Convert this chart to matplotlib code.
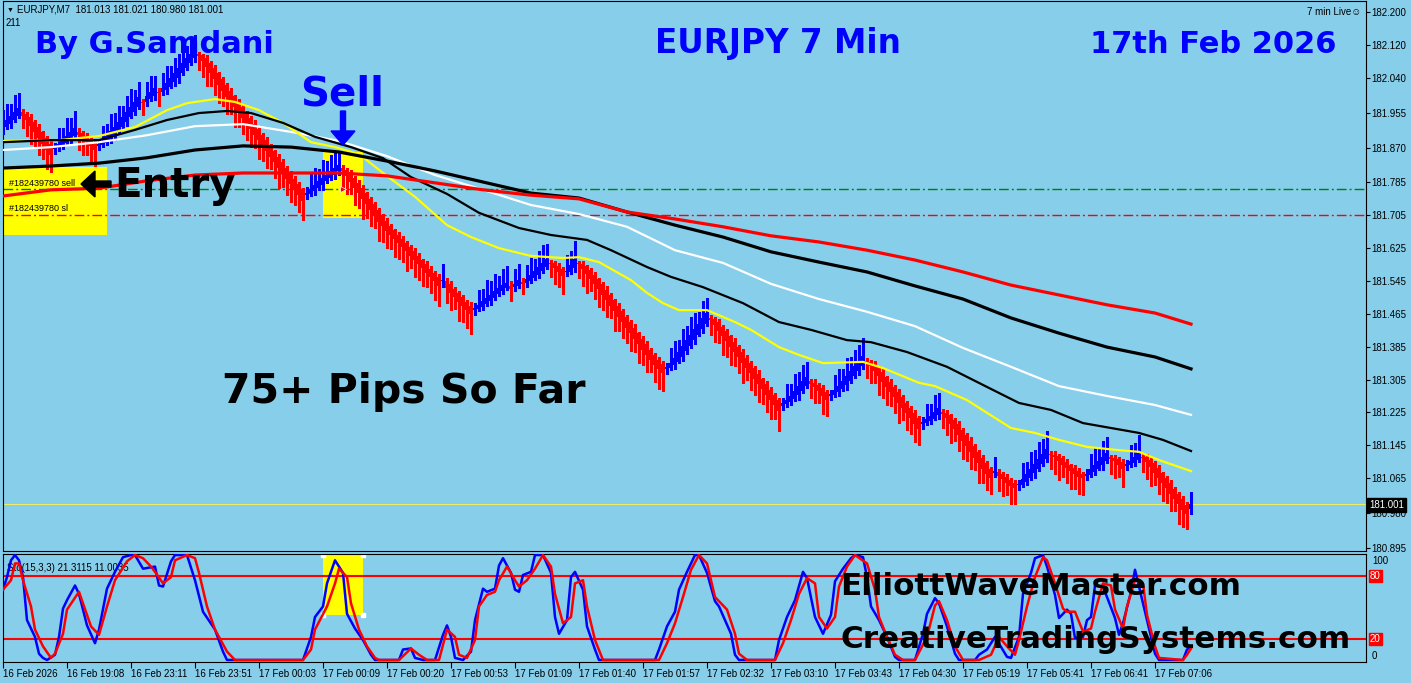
#!/usr/bin/env python3
"""
EURJPY M7 Chart (MT4 Screenshot Nachbau)
========================================

Heiken-Ashi Kerzen, 5 Moving Averages und Stochastic (15,3,3).

Usage:
    python plot.py
"""

import numpy as np
import matplotlib
matplotlib.use("Agg")
import matplotlib.pyplot as plt
from matplotlib.patches import Rectangle, FancyArrow
from matplotlib.transforms import IdentityTransform


# Bild-Parameter
WIDTH, HEIGHT, DPI = 1411, 683, 100
BG = "#87CEEB"        # MT4 SkyBlue
BULL = "#0000FF"
BEAR = "#FF0000"
POINT = 0.001         # 1 Punkt bei JPY-Paaren

plt.rcParams["font.family"] = ["Liberation Sans", "DejaVu Sans"]

# Heiken-Ashi Close pro Kerze
ha_close = [
    181.927, 181.937, 181.947, 181.957, 181.966, 181.947, 181.937, 181.922, 181.908, 181.893,
    181.879, 181.864, 181.852, 181.871, 181.879, 181.888, 181.898, 181.908, 181.918, 181.900,
    181.893, 181.883, 181.874, 181.864, 181.879, 181.886, 181.898, 181.910, 181.920, 181.932,
    181.944, 181.957, 181.969, 181.981, 181.993, 181.979, 181.995, 182.005, 182.015, 182.003,
    182.015, 182.027, 182.039, 182.051, 182.064, 182.076, 182.088, 182.098, 182.107, 182.092,
    182.081, 182.066, 182.051, 182.037, 182.022, 182.008, 181.993, 181.981, 181.969, 181.954,
    181.942, 181.927, 181.915, 181.900, 181.888, 181.874, 181.862, 181.847, 181.835, 181.820,
    181.808, 181.793, 181.781, 181.767, 181.754, 181.740, 181.760, 181.770, 181.779, 181.788,
    181.796, 181.804, 181.812, 181.820, 181.828, 181.812, 181.800, 181.786, 181.771, 181.759,
    181.745, 181.732, 181.718, 181.703, 181.689, 181.679, 181.667, 181.657, 181.647, 181.638,
    181.628, 181.618, 181.606, 181.596, 181.586, 181.577, 181.564, 181.555, 181.545, 181.533,
    181.547, 181.528, 181.516, 181.506, 181.494, 181.484, 181.474, 181.465, 181.480, 181.487,
    181.496, 181.504, 181.511, 181.521, 181.528, 181.535, 181.540, 181.525, 181.538, 181.547,
    181.540, 181.550, 181.560, 181.569, 181.579, 181.589, 181.599, 181.586, 181.577, 181.567,
    181.557, 181.569, 181.584, 181.599, 181.586, 181.574, 181.562, 181.550, 181.538, 181.525,
    181.511, 181.499, 181.484, 181.472, 181.457, 181.445, 181.431, 181.418, 181.404, 181.392,
    181.377, 181.365, 181.353, 181.340, 181.331, 181.321, 181.336, 181.345, 181.357, 181.372,
    181.387, 181.401, 181.414, 181.428, 181.440, 181.455, 181.467, 181.450, 181.438, 181.423,
    181.411, 181.399, 181.384, 181.372, 181.360, 181.345, 181.333, 181.321, 181.306, 181.294,
    181.282, 181.267, 181.255, 181.243, 181.228, 181.248, 181.256, 181.265, 181.277, 181.289,
    181.301, 181.311, 181.295, 181.287, 181.277, 181.265, 181.255, 181.270, 181.280, 181.289,
    181.301, 181.314, 181.326, 181.338, 181.350, 181.362, 181.345, 181.338, 181.326, 181.314,
    181.299, 181.287, 181.275, 181.263, 181.248, 181.236, 181.224, 181.211, 181.197, 181.185,
    181.201, 181.208, 181.216, 181.226, 181.236, 181.221, 181.211, 181.197, 181.185, 181.170,
    181.155, 181.143, 181.129, 181.114, 181.102, 181.087, 181.075, 181.065, 181.082, 181.070,
    181.063, 181.053, 181.046, 181.041, 181.051, 181.063, 181.075, 181.087, 181.099, 181.112,
    181.124, 181.136, 181.121, 181.116, 181.107, 181.097, 181.090, 181.082, 181.075, 181.068,
    181.065, 181.075, 181.087, 181.097, 181.107, 181.116, 181.126, 181.112, 181.107, 181.097,
    181.087, 181.099, 181.107, 181.116, 181.126, 181.114, 181.104, 181.092, 181.077, 181.065,
    181.053, 181.041, 181.026, 181.014, 181.002, 180.987, 180.978, 181.001,
]
first_open = 181.912

# Dochte in Punkten ueber / unter dem Body
wick_up = [
    34, 40, 30, 42, 36,
    6, 4, 8, 5, 7, 3, 6, 12,
    10, 38, 30, 44, 34, 40,
    8, 5, 7, 4, 6,
    12, 36, 30, 42, 34, 40, 28, 38, 44, 30, 36,
    8,
    34, 40, 30,
    10,
    36, 42, 30, 38, 34, 44, 30, 40, 36,
    6, 4, 8, 5, 7, 3, 6, 5, 8, 4, 6, 7, 3, 5, 8, 6, 4, 7, 5, 3, 6, 8, 4, 5, 7, 6, 4,
    14, 36, 42, 30, 44, 34, 40, 38, 30,
    8, 5, 7, 4, 6, 8, 3, 5, 7, 6, 4, 8, 5, 3, 6, 7, 4, 5, 8, 6, 3, 7, 5, 4, 6,
    40,
    6, 8, 4, 5, 7, 3, 10,
    12, 36, 30, 44, 34, 40, 28, 38, 42,
    10,
    36, 40,
    12,
    34, 42, 30, 38, 44, 36,
    8, 5, 7, 4,
    40, 34, 44,
    6, 8, 4, 5, 7, 3, 6, 8, 5, 4, 7, 6, 3, 5, 8, 4, 6, 7, 5, 3, 6, 8,
    10, 36, 42, 30, 40, 34, 44, 38, 30, 42, 36,
    8, 5, 7, 4, 6, 3, 8, 5, 7, 6, 4, 5, 8, 3, 6, 7, 5, 4,
    12, 38, 30, 42, 34, 40, 36,
    6, 8, 4, 7, 5,
    10, 36, 42, 30, 44, 34, 40, 38, 44,
    8, 5, 7, 4, 6, 3, 8, 5, 7, 6, 4, 5, 8, 6,
    12, 38, 30, 42, 36,
    6, 8, 4, 5, 7, 3, 6, 8, 5, 4, 7, 6, 5,
    34,
    8, 5, 7, 4, 6,
    10, 38, 30, 42, 34, 40, 36, 44,
    6, 8, 4, 5, 7, 3, 6, 8, 5,
    12, 36, 42, 30, 40, 38,
    6, 8, 5, 7,
    10, 38, 34, 44,
    6, 8, 4, 5, 7, 3, 6, 8, 5, 4, 7, 6,
    30,
]
wick_dn = [
    8, 4, 10, 6, 5,
    30, 38, 44, 34, 40, 36, 46, 42,
    12, 6, 8, 4, 10, 6,
    36, 42, 30, 44, 38,
    10, 6, 4, 8, 12, 5, 6, 10, 4, 8, 6,
    30,
    8, 5, 10,
    32,
    6, 10, 4, 8, 12, 5, 6, 4, 8,
    34, 40, 46, 30, 38, 44, 36, 42, 30, 48, 34, 40, 38, 44, 32, 46, 36, 42, 30, 40, 48, 34, 38, 44, 36, 42, 46,
    10, 6, 8, 4, 12, 5, 6, 10, 8,
    38, 44, 30, 42, 36, 48, 34, 40, 30, 46, 38, 42, 34, 44, 40, 36, 48, 30, 42, 38, 44, 34, 40, 46, 48,
    14,
    36, 42, 30, 46, 40, 44, 48,
    12, 6, 8, 4, 10, 6, 5, 8, 4,
    28,
    8, 6,
    26,
    10, 6, 4, 8, 5, 6,
    32, 40, 36, 44,
    8, 6, 10,
    34, 40, 46, 30, 38, 44, 36, 42, 30, 48, 34, 40, 38, 44, 32, 46, 36, 42, 30, 40, 48, 44,
    12, 6, 8, 4, 10, 6, 5, 8, 4, 10, 6,
    36, 42, 30, 46, 38, 44, 34, 40, 48, 30, 42, 38, 44, 36, 40, 46, 34, 48,
    10, 6, 8, 4, 12, 5, 6,
    34, 40, 30, 44, 38,
    10, 6, 8, 4, 12, 5, 6, 10, 8,
    36, 42, 30, 46, 38, 44, 34, 40, 48, 30, 42, 38, 44, 40,
    12, 6, 8, 4, 10,
    34, 40, 46, 30, 38, 44, 36, 42, 30, 48, 34, 40, 38,
    10,
    36, 42, 30, 44, 40,
    12, 6, 8, 4, 10, 6, 5, 8,
    34, 40, 46, 30, 38, 44, 36, 42, 40,
    10, 6, 8, 4, 12, 6,
    36, 42, 30, 44,
    10, 6, 8, 4,
    34, 40, 46, 30, 38, 44, 36, 42, 30, 48, 40, 38,
    12,
]

ma_bars = [0, 12, 24, 36, 48, 60, 72, 84, 96, 108, 120, 132, 144,
           156, 168, 180, 192, 204, 216, 228, 240, 252, 264, 276, 288, 297]
ma_white = [181.864, 181.871, 181.883, 181.900, 181.922, 181.927, 181.908, 181.886, 181.849,
            181.803, 181.767, 181.730, 181.708, 181.677, 181.620, 181.589, 181.538, 181.501,
            181.470, 181.435, 181.382, 181.336, 181.289, 181.265, 181.243, 181.219]
ma_black_slow = [181.820, 181.825, 181.832, 181.845, 181.864, 181.874, 181.871, 181.859, 181.837,
                 181.813, 181.786, 181.759, 181.747, 181.713, 181.681, 181.652, 181.616, 181.591,
                 181.567, 181.533, 181.501, 181.455, 181.418, 181.384, 181.360, 181.331]
ma_red = [181.752, 181.767, 181.771, 181.789, 181.803, 181.808, 181.808, 181.808, 181.801,
          181.784, 181.767, 181.754, 181.745, 181.713, 181.696, 181.677, 181.655, 181.640,
          181.620, 181.596, 181.567, 181.535, 181.511, 181.487, 181.467, 181.440]

yellow_bars = [0, 14, 24, 33, 41, 46, 53, 58, 64, 70, 77, 83, 89, 95, 103, 111, 117, 124, 132,
               140, 144, 149, 153, 157, 161, 165, 169, 176, 183, 187, 194, 199, 205, 215, 220,
               229, 233, 241, 246, 252, 258, 264, 271, 279, 284, 289, 297]
ma_yellow = [181.886, 181.888, 181.898, 181.920, 181.961, 181.978, 181.988, 181.981, 181.961,
             181.930, 181.883, 181.871, 181.854, 181.808, 181.750, 181.681, 181.652, 181.625,
             181.606, 181.601, 181.603, 181.591, 181.569, 181.547, 181.516, 181.491, 181.474,
             181.474, 181.445, 181.426, 181.384, 181.365, 181.345, 181.348, 181.333, 181.297,
             181.289, 181.255, 181.224, 181.187, 181.175, 181.158, 181.141, 181.133, 181.129,
             181.109, 181.082]
black_fast_bars = [0, 12, 24, 33, 41, 49, 56, 62, 70, 78, 87, 95, 102, 111, 119, 129, 137, 146,
                   152, 161, 167, 175, 185, 194, 202, 211, 217, 226, 236, 246, 254, 262, 270,
                   277, 284, 290, 297]
ma_black_fast = [181.883, 181.888, 181.888, 181.913, 181.937, 181.954, 181.959, 181.954, 181.930,
                 181.896, 181.871, 181.844, 181.798, 181.757, 181.711, 181.674, 181.657, 181.645,
                 181.620, 181.579, 181.555, 181.530, 181.491, 181.445, 181.426, 181.401, 181.396,
                 181.372, 181.336, 181.287, 181.248, 181.231, 181.199, 181.187, 181.175, 181.158,
                 181.131]

# Stochastic %K (blau) und %D (rot)
sto_k_bars = [0, 1, 2, 3, 4, 5, 6, 8, 9, 10, 11, 13, 14, 15, 16, 18, 19, 21, 23, 24, 26, 28, 30,
              32, 33, 35, 38, 39, 40, 42, 43, 46, 48, 50, 53, 55, 56, 75, 77, 78, 80, 81, 83, 85,
              86, 88, 90, 92, 93, 99, 100, 102, 103, 105, 108, 110, 111, 112, 113, 115, 117, 118,
              120, 121, 123, 124, 125, 127, 128, 129, 130, 132, 133, 135, 137, 138, 139, 141, 142,
              143, 145, 146, 148, 149, 163, 164, 166, 168, 169, 171, 173, 174, 176, 178, 179, 182,
              183, 184, 193, 194, 196, 198, 200, 201, 203, 205, 207, 208, 210, 212, 213, 215, 216,
              217, 219, 221, 223, 224, 228, 230, 231, 233, 234, 236, 238, 239, 243, 244, 246, 248,
              251, 252, 254, 255, 257, 258, 260, 261, 263, 264, 266, 267, 268, 270, 271, 272, 273,
              275, 276, 278, 279, 280, 282, 283, 284, 286, 288, 289, 295, 296, 297]
sto_k = [67, 79, 95, 100, 95, 79, 38, 22, 6, 2, 0, 5, 22, 49, 57, 71, 63, 33, 16, 29, 68, 84, 98,
         100, 100, 87, 89, 71, 70, 94, 100, 100, 76, 46, 29, 8, 0, 0, 22, 41, 51, 73, 95, 83,
         44, 30, 19, 5, 0, 0, 10, 11, 2, 0, 0, 24, 33, 22, 2, 0, 8, 38,
         68, 65, 68, 90, 97, 83, 67, 65, 81, 84, 100, 100, 83, 41, 25, 38, 79,
         84, 67, 32, 10, 0, 0, 10, 32, 46, 67, 84, 100, 100, 83, 56, 51, 25,
         5, 0, 0, 19, 41, 57, 84, 78, 41, 25, 43, 75, 87, 97, 100, 98, 79,
         51, 38, 22, 3, 0, 0, 25, 44, 59, 54, 32, 6, 0, 0, 5, 10, 22,
         3, 2, 22, 63, 83, 97, 100, 89, 62, 40, 48, 44, 21, 22, 38, 41, 71,
         70, 60, 40, 24, 35, 65, 86, 70, 38, 6, 0, 0, 10, 13]
sto_d_bars = [0, 2, 3, 4, 5, 7, 8, 10, 12, 13, 15, 16, 19, 20, 22, 24, 26, 28, 31, 33, 35, 37, 38,
              40, 42, 43, 46, 48, 49, 51, 53, 56, 58, 75, 77, 78, 81, 83, 84, 86, 87, 89, 91, 93,
              94, 99, 102, 104, 106, 109, 111, 113, 114, 116, 118, 119, 121, 123, 124, 126, 128,
              129, 131, 133, 135, 137, 138, 140, 142, 143, 145, 146, 148, 150, 164, 166, 168, 170,
              172, 174, 176, 178, 181, 183, 184, 186, 193, 195, 197, 199, 201, 203, 204, 206, 208,
              209, 211, 213, 216, 218, 219, 221, 223, 225, 228, 231, 233, 234, 236, 238, 240, 244,
              247, 249, 251, 253, 254, 256, 258, 260, 261, 263, 265, 266, 268, 270, 272, 273, 275,
              277, 278, 280, 281, 283, 285, 286, 288, 289, 295, 296, 297]
sto_d = [67, 76, 92, 92, 76, 51, 29, 13, 2, 6, 25, 48, 65, 54, 32, 24, 51, 76, 94, 100, 97, 89, 84,
         73, 79, 95, 100, 97, 83, 51, 29, 8, 0, 0, 10, 29, 51, 73, 87, 79, 54, 29, 13, 2,
         0, 0, 11, 5, 0, 0, 29, 22, 5, 2, 19, 51, 62, 65, 76, 89, 76,
         70, 76, 87, 100, 89, 63, 35, 41, 73, 76, 51, 19, 0, 0, 16, 35, 60,
         86, 100, 92, 60, 48, 25, 6, 0, 0, 16, 38, 63, 78, 73, 41, 30, 41,
         70, 89, 100, 92, 67, 41, 22, 5, 0, 0, 22, 52, 56, 38, 13, 0, 0,
         5, 22, 13, 5, 19, 51, 79, 98, 95, 73, 49, 46, 46, 27, 30, 46, 73,
         71, 48, 30, 51, 76, 73, 43, 13, 2, 0, 5, 11]
sto_levels = [80, 20]

# Achsen-Beschriftung
price_ticks = [182.200, 182.120, 182.040, 181.955, 181.870, 181.785, 181.705, 181.625, 181.545,
               181.465, 181.385, 181.305, 181.225, 181.145, 181.065, 180.980, 180.895]
time_bars = [0, 16, 32, 48, 64, 80, 96, 112, 128, 144, 160, 176, 192, 208, 224, 240, 256, 272, 288]
time_labels = ["16 Feb 2026", "16 Feb 19:08", "16 Feb 23:11", "16 Feb 23:51", "17 Feb 00:03",
               "17 Feb 00:09", "17 Feb 00:20", "17 Feb 00:53", "17 Feb 01:09", "17 Feb 01:40",
               "17 Feb 01:57", "17 Feb 02:32", "17 Feb 03:10", "17 Feb 03:43", "17 Feb 04:30",
               "17 Feb 05:19", "17 Feb 05:41", "17 Feb 06:41", "17 Feb 07:06"]

# Order-Linien und Markierungen
entry_price = 181.768
sl_price = 181.705
bid_price = 181.001
entry_bar = 85
entry_zone = (-0.2, 26.0, 181.657, 181.823)
sell_zone = (80.0, 90.0, 181.698, 181.859)
sto_zone = (80.0, 90.0, 43.0, 100.0)


def fig_xy(x, y):
    """Pixel (oben links) -> Figure-Koordinaten."""
    return x / WIDTH, 1 - y / HEIGHT


def fit(values, n):
    """Liste auf Laenge n bringen (Sicherheit bei Tippfehlern)."""
    arr = np.asarray(values, dtype=float)
    if len(arr) < n:
        arr = np.concatenate([arr, np.full(n - len(arr), arr[-1])])
    return arr[:n]


def heiken_ashi_open(closes, first):
    """HA-Open = Mitte des vorherigen HA-Bodys."""
    opens = [first]
    for i in range(1, len(closes)):
        opens.append((opens[-1] + closes[i - 1]) / 2)
    return np.array(opens)


def draw_zone(ax, zone, zorder=1):
    x0, x1, y0, y1 = zone
    ax.add_patch(Rectangle((x0, y0), x1 - x0, y1 - y0, facecolor="#FFFF00",
                           edgecolor="none", zorder=zorder))


def draw_candles(ax):
    c = np.array(ha_close)
    n = len(c)
    o = heiken_ashi_open(c, first_open)
    x = np.arange(n)
    top = np.maximum(o, c)
    bot = np.minimum(o, c)
    hi = top + fit(wick_up, n) * POINT
    lo = bot - fit(wick_dn, n) * POINT
    colors = [BULL if ci >= oi else BEAR for ci, oi in zip(c, o)]

    # MT4 zeichnet ohne Kantenglaettung -> kraeftige Farben
    ax.vlines(x, lo, hi, colors=colors, lw=1.0, zorder=3, antialiased=False)
    height = np.maximum(top - bot, 0.003)
    mid = (top + bot) / 2
    ax.bar(x, height, bottom=mid - height / 2, width=0.95, color=colors,
           linewidth=0, zorder=4, antialiased=False)


def style_axes(ax):
    ax.set_facecolor(BG)
    for sp in ax.spines.values():
        sp.set_color("black")
        sp.set_linewidth(0.8)
    ax.set_xlim(-0.125, 340.625)


def pixel_arrow(fig, x, y, dx, dy, color, width, head_width, head_length):
    """Dicker Pfeil in Pixel-Koordinaten (oben links = 0,0)."""
    fig.add_artist(FancyArrow(x, HEIGHT - y, dx, -dy, width=width, head_width=head_width,
                              head_length=head_length, length_includes_head=True,
                              color=color, transform=IdentityTransform(), zorder=10))


def main():
    fig = plt.figure(figsize=(WIDTH / DPI, HEIGHT / DPI), dpi=DPI, facecolor=BG)

    # Hauptchart
    ax = fig.add_axes([2.5 / WIDTH, 1 - 551 / HEIGHT, 1363 / WIDTH, 550 / HEIGHT])
    style_axes(ax)
    ax.set_ylim(180.8875, 182.2268)

    draw_zone(ax, entry_zone)
    draw_zone(ax, sell_zone)

    ax.axhline(entry_price, color="#008000", lw=1.0, dashes=(7, 2.2, 1.4, 2.2), zorder=2)
    ax.axhline(sl_price, color=BEAR, lw=1.0, dashes=(7, 2.2, 1.4, 2.2), zorder=2)
    ax.axhline(bid_price, color="#EEEE66", lw=0.8, zorder=2)

    draw_candles(ax)

    # Moving Averages
    ax.plot(ma_bars, ma_white, color="#FFFFFF", lw=1.6, zorder=5)
    ax.plot(yellow_bars, ma_yellow, color="#FFFF00", lw=1.6, zorder=5)
    ax.plot(black_fast_bars, ma_black_fast, color="black", lw=1.6, zorder=5)
    ax.plot(ma_bars, ma_black_slow, color="black", lw=2.3, zorder=5)
    ax.plot(ma_bars, ma_red, color=BEAR, lw=2.3, zorder=5)

    ax.plot([entry_bar], [entry_price], marker=">", ms=5, color=BEAR,
            mec="white", mew=0.5, zorder=6)

    ax.yaxis.tick_right()
    ax.set_yticks(price_ticks)
    ax.set_yticklabels([f"{p:.3f}" for p in price_ticks])
    ax.tick_params(axis="y", direction="out", length=3, width=0.8, pad=1.5, labelsize=7)
    ax.tick_params(axis="x", bottom=False, labelbottom=False)

    # Stochastic
    ax2 = fig.add_axes([2.5 / WIDTH, 1 - 662 / HEIGHT, 1363 / WIDTH, 108 / HEIGHT])
    style_axes(ax2)
    ax2.set_ylim(-1.9, 101)
    draw_zone(ax2, sto_zone)
    x0, x1, y0, y1 = sto_zone
    ax2.plot([x0, x1, x0, x1], [y0, y0, y1, y1], ls="none", marker="s", ms=2.5,
             color="white", zorder=2)
    for lvl in sto_levels:
        ax2.axhline(lvl, color=BEAR, lw=1.5, zorder=2)
    ax2.text(0.003, 0.87, "Sto(15,3,3) 21.3115 11.0035", transform=ax2.transAxes,
             fontsize=7, va="center", ha="left", zorder=1)
    ax2.plot(sto_k_bars, sto_k, color=BULL, lw=1.8, zorder=3)
    ax2.plot(sto_d_bars, sto_d, color=BEAR, lw=1.8, zorder=4)

    ax2.set_yticks([])
    ax2.set_xticks(time_bars)
    ax2.set_xticklabels(time_labels)
    for lab in ax2.get_xticklabels():
        lab.set_horizontalalignment("left")
    ax2.tick_params(axis="x", direction="out", length=4, width=0.8, pad=1, labelsize=7)

    # Rechte Skala der Stochastic
    for val, ypix in [("100", 561), ("0", 656)]:
        fig.text(*fig_xy(1372, ypix), val, fontsize=7, va="center", ha="left")
    for val, ypix in [("80", 576), ("20", 639)]:
        fig.text(*fig_xy(1370, ypix), val, fontsize=7, va="center", ha="left", color="white",
                 bbox=dict(boxstyle="square,pad=0.12", fc=BEAR, ec=BEAR))

    # Aktueller Kurs
    fig.text(*fig_xy(1369, 505), f"{bid_price:.3f}", fontsize=7, va="center", ha="left",
             color="white", bbox=dict(boxstyle="square,pad=0.2", fc="black", ec="black"))

    # Kopfzeile
    fig.text(*fig_xy(7, 10), "\u25bc", fontsize=5, va="center", ha="left")
    fig.text(*fig_xy(17, 10), "EURJPY,M7  181.013 181.021 180.980 181.001",
             fontsize=7, va="center", ha="left")
    fig.text(*fig_xy(6, 23), "211", fontsize=7, va="center", ha="left")
    fig.text(*fig_xy(1361, 12), "7 min Live\u263a", fontsize=7, va="center", ha="right")

    # Order-Labels
    fig.text(*fig_xy(9, 184), "#182439780 sell", fontsize=6.5, va="center", ha="left")
    fig.text(*fig_xy(9, 209), "#182439780 sl", fontsize=6.5, va="center", ha="left")

    # Grosse Texte
    bold = dict(family="DejaVu Sans", fontweight="bold", va="baseline", ha="left")
    fig.text(*fig_xy(35, 53), "By G.Samdani", fontsize=22, color=BULL, **bold)
    fig.text(*fig_xy(655, 53), "EURJPY 7 Min", fontsize=23.5, color=BULL, **bold)
    fig.text(*fig_xy(1090, 53), "17th Feb 2026", fontsize=22, color=BULL, **bold)
    fig.text(*fig_xy(300, 105), "Sell", fontsize=29, color=BULL, **bold)
    pixel_arrow(fig, 343, 111, 0, 34, BULL, width=5, head_width=24, head_length=14)
    pixel_arrow(fig, 111, 184, -30, 0, "black", width=6, head_width=26, head_length=14)
    fig.text(*fig_xy(114, 197), "Entry", fontsize=29, color="black", **bold)
    fig.text(*fig_xy(222, 403), "75+ Pips So Far", fontsize=29.5, color="black", **bold)
    fig.text(*fig_xy(840, 595), "ElliottWaveMaster.com", fontsize=22.3, color="black", **bold)
    fig.text(*fig_xy(840, 648), "CreativeTradingSystems.com", fontsize=22.3, color="black", **bold)

    fig.savefig("out.png", dpi=DPI, facecolor=BG)
    plt.close(fig)
    print("Chart gespeichert: out.png")


if __name__ == "__main__":
    main()
